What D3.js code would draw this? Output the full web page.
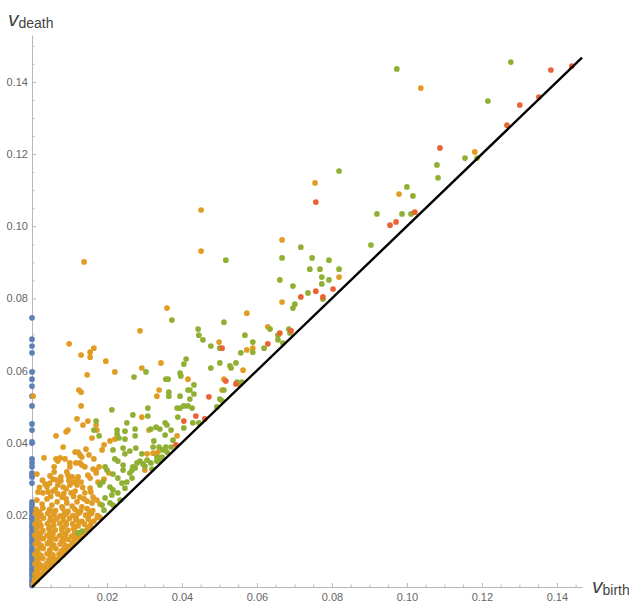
<!DOCTYPE html>
<meta charset="utf-8">
<style>
  body { margin: 0; background: #fff; }
  .axis path, .axis line { stroke: #b8b8b8; stroke-width: 1px; }
  .axis text { font-family: "Liberation Sans", Arial, sans-serif; font-size: 11px; fill: #666; }
  .lbl { font-family: "Liberation Sans", Arial, sans-serif; fill: #444; }
</style>
<svg width="629" height="603"></svg>
<script src="https://d3js.org/d3.v7.min.js"></script>
<script>

var svg = d3.select("svg");

var xMax = 0.1467, yMax = 0.153;
var majorTicks = [0.02, 0.04, 0.06, 0.08, 0.10, 0.12, 0.14];
var tickLabels = ["0.02", "0.04", "0.06", "0.08", "0.10", "0.12", "0.14"];

// H0: all born at 0
var blueDeaths = [0.0746, 0.0687, 0.0668, 0.0649, 0.0596, 0.0576, 0.0557, 0.0529, 0.0502, 0.0452,
  0.0435, 0.0402, 0.0399, 0.0355, 0.0344, 0.0333, 0.0316, 0.0310, 0.0305, 0.0288, 0.0236, 0.0229,
  0.0221, 0.0214, 0.0209, 0.0200, 0.0193, 0.0187, 0.0178, 0.0171, 0.0166, 0.0157, 0.0149, 0.0144,
  0.0136, 0.0127, 0.0121, 0.0113, 0.0104, 0.0099, 0.0091, 0.0082, 0.0076, 0.0067, 0.0061, 0.0052,
  0.0046, 0.0037, 0.0031, 0.0022, 0.0016, 0.0009, 0.0004];

var orangePts = [
  [0.0139,0.0901],[0.0451,0.1045],[0.0451,0.0931],[0.0360,0.0773],[0.0288,0.0710],[0.0099,0.0674],
  [0.0131,0.0643],[0.0155,0.0651],[0.0165,0.0662],[0.0155,0.0637],[0.0197,0.0626],[0.0221,0.0596],
  [0.0293,0.0607],[0.0147,0.0588],[0.0003,0.0529],[0.0125,0.0546],[0.0131,0.0540],[0.0131,0.0502],
  [0.0120,0.0466],[0.0149,0.0460],[0.0136,0.0449],[0.0171,0.0449],[0.0173,0.0435],[0.0339,0.0546],
  [0.0333,0.0529],[0.0293,0.0471],[0.0344,0.0621],[0.0416,0.0576],[0.0507,0.0546],[0.0512,0.0576],
  [0.0563,0.0601],[0.0573,0.0759],[0.0499,0.0679],[0.0589,0.0662],[0.0573,0.0657],[0.0629,0.0721],
  [0.0667,0.0790],[0.0667,0.0962],[0.0755,0.1120],[0.0819,0.0859],[0.1037,0.1383],[0.1181,0.1206],
  [0.0979,0.1089],[0.0312,0.0435],[0.0387,0.0419],[0.0307,0.0369],[0.0341,0.0358],[0.0301,0.0324],
  [0.0323,0.0371],[0.0336,0.0374],
  [0.0064,0.0419],[0.0091,0.0430],[0.0096,0.0435],[0.0160,0.0413],[0.0208,0.0405],[0.0221,0.0410],
  [0.0192,0.0394],[0.0187,0.0380],[0.0144,0.0382],[0.0115,0.0374],[0.0123,0.0374],[0.0128,0.0366],
  [0.0133,0.0360],[0.0083,0.0388],[0.0032,0.0358],[0.0064,0.0355],[0.0075,0.0358],[0.0069,0.0349],
  [0.0165,0.0355],[0.0117,0.0344],[0.0128,0.0344],[0.0152,0.0366],[0.0133,0.0338],[0.0141,0.0333],
  [0.0059,0.0333],[0.0059,0.0319],[0.0088,0.0355],[0.0101,0.0344],[0.0101,0.0333],[0.0171,0.0324],
  [0.0179,0.0333],[0.0013,0.0313],[0.0056,0.0299],[0.0064,0.0297],[0.0077,0.0305],[0.0077,0.0294],
  [0.0096,0.0310],[0.0123,0.0305],[0.0149,0.0310],[0.0155,0.0302],[0.0171,0.0316],[0.0176,0.0291],
  [0.0163,0.0327],[0.0192,0.0299],[0.0205,0.0316],[0.0048,0.0308],[0.0093,0.0319],[0.0107,0.0305],
  [0.0120,0.0297],[0.0131,0.0291],[0.0040,0.0277],[0.0069,0.0283],[0.0083,0.0277],[0.0091,0.0272],
  [0.0120,0.0283],[0.0101,0.0283],[0.0029,0.0261],[0.0043,0.0263],[0.0056,0.0266],[0.0069,0.0258],
  [0.0080,0.0249],[0.0091,0.0244],[0.0104,0.0261],[0.0115,0.0266],[0.0128,0.0249],[0.0141,0.0261],
  [0.0155,0.0274],[0.0157,0.0263],[0.0163,0.0249],[0.0147,0.0238],[0.0160,0.0233],[0.0173,0.0241],
  [0.0181,0.0230],[0.0016,0.0263],[0.0013,0.0241],[0.0027,0.0230],[0.0040,0.0244],[0.0053,0.0227],
  [0.0067,0.0236],[0.0080,0.0222],[0.0093,0.0233],[0.0107,0.0224],[0.0120,0.0236],[0.0133,0.0222],
  [0.0035,0.0285],[0.0050,0.0251],[0.0085,0.0259],[0.0111,0.0251],[0.0139,0.0244],[0.0028,0.0296],
  [0.0110,0.0290],[0.0135,0.0276],[0.0062,0.0271],[0.0020,0.0276],[0.0098,0.0296],[0.0047,0.0287],
  [0.0011,0.0215],[0.0029,0.0219],[0.0046,0.0214],[0.0063,0.0212],[0.0082,0.0218],[0.0096,0.0210],
  [0.0114,0.0216],[0.0130,0.0211],[0.0147,0.0217],[0.0162,0.0212],
  [0.0020,0.0208],[0.0054,0.0210],[0.0087,0.0207],[0.0121,0.0209],[0.0154,0.0206],
  [0.0009,0.0203],[0.0025,0.0199],[0.0042,0.0204],[0.0059,0.0200],[0.0075,0.0197],[0.0092,0.0203],
  [0.0109,0.0198],[0.0126,0.0205],[0.0143,0.0199],[0.0159,0.0204],[0.0175,0.0198],
  [0.0017,0.0195],[0.0050,0.0193],[0.0084,0.0196],[0.0118,0.0194],[0.0151,0.0196],[0.0181,0.0193],
  [0.0014,0.0187],[0.0031,0.0191],[0.0048,0.0185],[0.0066,0.0189],[0.0083,0.0184],[0.0100,0.0190],
  [0.0117,0.0186],[0.0133,0.0182],[0.0150,0.0188],[0.0165,0.0183],[0.0174,0.0192],
  [0.0020,0.0180],[0.0057,0.0181],[0.0091,0.0179],[0.0125,0.0181],[0.0158,0.0178],
  [0.0008,0.0174],[0.0024,0.0170],[0.0041,0.0175],[0.0058,0.0171],[0.0074,0.0176],[0.0091,0.0172],
  [0.0108,0.0175],[0.0123,0.0170],[0.0140,0.0174],[0.0155,0.0169],
  [0.0016,0.0166],[0.0050,0.0167],[0.0083,0.0165],[0.0116,0.0167],[0.0148,0.0164],
  [0.0012,0.0160],[0.0029,0.0156],[0.0045,0.0162],[0.0062,0.0158],[0.0079,0.0161],[0.0096,0.0157],
  [0.0111,0.0162],[0.0146,0.0158],
  [0.0015,0.0151],[0.0048,0.0153],[0.0081,0.0151],[0.0114,0.0152],[0.0136,0.0150],
  [0.0007,0.0144],[0.0023,0.0148],[0.0040,0.0143],[0.0056,0.0147],[0.0073,0.0142],[0.0090,0.0146],
  [0.0106,0.0141],[0.0122,0.0145],
  [0.0019,0.0137],[0.0052,0.0138],[0.0085,0.0136],[0.0115,0.0138],[0.0129,0.0140],
  [0.0013,0.0130],[0.0030,0.0134],[0.0047,0.0129],[0.0063,0.0133],[0.0080,0.0128],[0.0097,0.0132],
  [0.0113,0.0129],[0.0123,0.0134],
  [0.0017,0.0124],[0.0050,0.0123],[0.0083,0.0125],[0.0110,0.0124],
  [0.0009,0.0119],[0.0025,0.0115],[0.0041,0.0120],[0.0058,0.0116],[0.0075,0.0119],[0.0091,0.0114],
  [0.0106,0.0118],
  [0.0020,0.0110],[0.0054,0.0111],[0.0087,0.0109],[0.0100,0.0112],
  [0.0014,0.0103],[0.0030,0.0107],[0.0047,0.0102],[0.0064,0.0106],[0.0080,0.0101],[0.0093,0.0105],
  [0.0016,0.0097],[0.0048,0.0096],[0.0079,0.0098],[0.0088,0.0096],
  [0.0008,0.0091],[0.0024,0.0088],[0.0040,0.0092],[0.0056,0.0089],[0.0072,0.0091],[0.0082,0.0088],
  [0.0018,0.0083],[0.0050,0.0082],[0.0074,0.0084],
  [0.0013,0.0076],[0.0029,0.0079],[0.0045,0.0075],[0.0060,0.0078],[0.0069,0.0074],
  [0.0016,0.0070],[0.0047,0.0069],[0.0062,0.0071],
  [0.0008,0.0064],[0.0024,0.0061],[0.0039,0.0065],[0.0053,0.0062],
  [0.0016,0.0056],[0.0034,0.0055],[0.0048,0.0057],
  [0.0012,0.0048],[0.0027,0.0051],[0.0040,0.0047],
  [0.0015,0.0042],[0.0034,0.0043],
  [0.0008,0.0036],[0.0022,0.0034],[0.0029,0.0037],
  [0.0012,0.0028],[0.0021,0.0029],
  [0.0007,0.0022],[0.0015,0.0020],[0.0010,0.0015],[0.0004,0.0009]
];

var greenPts = [
  [0.1277,0.1455],[0.1216,0.1347],[0.1155,0.1189],[0.1187,0.1189],[0.1080,0.1170],[0.1083,0.1134],
  [0.1000,0.1109],[0.1016,0.1084],[0.0987,0.1034],[0.1011,0.1034],[0.0973,0.1436],[0.0819,0.1153],
  [0.0920,0.1034],[0.0904,0.0948],[0.0717,0.0942],[0.0747,0.0912],[0.0792,0.0906],[0.0741,0.0881],
  [0.0768,0.0881],[0.0819,0.0881],[0.0773,0.0859],[0.0792,0.0851],[0.0773,0.0840],[0.0736,0.0815],
  [0.0776,0.0798],[0.0517,0.0906],[0.0667,0.0912],[0.0661,0.0851],[0.0696,0.0834],[0.0701,0.0784],
  [0.0696,0.0773],[0.0512,0.0734],[0.0635,0.0715],[0.0443,0.0715],[0.0445,0.0698],[0.0456,0.0685],
  [0.0568,0.0698],[0.0685,0.0715],[0.0688,0.0704],[0.0656,0.0698],[0.0656,0.0685],[0.0669,0.0676],
  [0.0589,0.0679],[0.0477,0.0668],[0.0501,0.0662],[0.0589,0.0651],[0.0619,0.0662],[0.0557,0.0649],
  [0.0544,0.0621],[0.0501,0.0621],[0.0528,0.0613],[0.0531,0.0607],[0.0477,0.0607],[0.0373,0.0740],
  [0.0411,0.0632],[0.0405,0.0618],[0.0357,0.0576],[0.0363,0.0576],[0.0395,0.0593],[0.0397,0.0585],
  [0.0365,0.0540],[0.0365,0.0529],[0.0395,0.0529],[0.0416,0.0546],[0.0421,0.0546],[0.0432,0.0560],
  [0.0432,0.0535],[0.0421,0.0521],[0.0387,0.0496],[0.0395,0.0496],[0.0405,0.0502],[0.0416,0.0502],
  [0.0427,0.0496],[0.0501,0.0521],[0.0507,0.0516],[0.0493,0.0499],[0.0512,0.0546],[0.0547,0.0568],
  [0.0560,0.0568],[0.0555,0.0563],[0.0389,0.0471],[0.0429,0.0455],[0.0445,0.0455],[0.0405,0.0441],
  [0.0355,0.0455],[0.0360,0.0449],[0.0317,0.0438],[0.0331,0.0443],[0.0341,0.0438],[0.0371,0.0435],
  [0.0355,0.0421],[0.0309,0.0474],[0.0309,0.0496],[0.0272,0.0582],[0.0304,0.0596],[0.0269,0.0477],
  [0.0376,0.0407],[0.0275,0.0419],[0.0325,0.0405],[0.0323,0.0388],[0.0339,0.0388],[0.0357,0.0388],
  [0.0371,0.0388],[0.0277,0.0385],[0.0349,0.0380],[0.0360,0.0374],[0.0293,0.0369],[0.0333,0.0360],
  [0.0347,0.0360],[0.0307,0.0352],[0.0288,0.0349],[0.0280,0.0344],[0.0269,0.0333],[0.0301,0.0335],
  [0.0320,0.0327],[0.0267,0.0324],[0.0171,0.0460],[0.0165,0.0435],[0.0179,0.0419],[0.0213,0.0491],
  [0.0227,0.0435],[0.0227,0.0424],[0.0232,0.0413],[0.0253,0.0455],[0.0275,0.0438],[0.0248,0.0432],
  [0.0248,0.0410],[0.0216,0.0380],[0.0243,0.0385],[0.0248,0.0369],[0.0261,0.0377],[0.0221,0.0355],
  [0.0229,0.0349],[0.0195,0.0333],[0.0200,0.0324],[0.0216,0.0313],[0.0229,0.0302],[0.0243,0.0338],
  [0.0243,0.0324],[0.0275,0.0330],[0.0296,0.0341],[0.0261,0.0316],[0.0267,0.0302],[0.0253,0.0291],
  [0.0317,0.0344],[0.0333,0.0349],[0.0344,0.0352],[0.0181,0.0283],[0.0189,0.0291],[0.0208,0.0277],
  [0.0216,0.0269],[0.0213,0.0255],[0.0229,0.0261],[0.0240,0.0288],[0.0248,0.0274],[0.0195,0.0247],
  [0.0208,0.0233],[0.0216,0.0227],[0.0235,0.0241],[0.0187,0.0227],[0.0192,0.0213],[0.0123,0.0150],
  [0.0133,0.0155]
];

var redPts = [
  [0.1384,0.1433],[0.1440,0.1444],[0.1301,0.1336],[0.1352,0.1358],[0.1267,0.1280],[0.1088,0.1217],
  [0.1021,0.1039],[0.0955,0.1003],[0.0971,0.1012],[0.0757,0.1067],[0.0803,0.0826],[0.0757,0.0820],
  [0.0717,0.0804],[0.0776,0.0804],[0.0691,0.0710],[0.0661,0.0704],[0.0629,0.0674],[0.0507,0.0662],
  [0.0517,0.0571],[0.0544,0.0563],[0.0472,0.0527],[0.0437,0.0474],[0.0405,0.0460],[0.0461,0.0466],
  [0.0384,0.0394]
];

var x = d3.scaleLinear().domain([0, xMax]).range([32, 582]);
var y = d3.scaleLinear().domain([0, yMax]).range([587, 35]);

var minorX = d3.range(1, 30).map(function(i) { return i * 0.005; })
  .filter(function(v) { return v <= xMax && Math.round(v * 1000) % 20 != 0; });
var minorY = d3.range(1, 31).map(function(i) { return i * 0.005; })
  .filter(function(v) { return v <= yMax && Math.round(v * 1000) % 20 != 0; });

// axes (ticks point inward, Mathematica style)
svg.append("g").attr("class", "axis").attr("transform", "translate(0,587)")
  .call(d3.axisBottom(x).tickValues(majorTicks).tickFormat(function(d, i) { return tickLabels[i]; })
    .tickSize(-4).tickSizeOuter(0).tickPadding(6));
svg.append("g").attr("class", "axis").attr("transform", "translate(0,587)")
  .call(d3.axisBottom(x).tickValues(minorX).tickFormat("").tickSize(-2.5))
  .select(".domain").remove();

svg.append("g").attr("class", "axis").attr("transform", "translate(32,0)")
  .call(d3.axisLeft(y).tickValues(majorTicks).tickFormat(function(d, i) { return tickLabels[i]; })
    .tickSize(-4).tickSizeOuter(0).tickPadding(4));
svg.append("g").attr("class", "axis").attr("transform", "translate(32,0)")
  .call(d3.axisLeft(y).tickValues(minorY).tickFormat("").tickSize(-2.5))
  .select(".domain").remove();

var r = 2.85;
function dots(data, color) {
  svg.append("g").selectAll("circle")
    .data(data)
    .enter().append("circle")
    .attr("cx", function(d) { return x(d[0]); })
    .attr("cy", function(d) { return y(d[1]); })
    .attr("r", r)
    .attr("fill", color);
}

dots(blueDeaths.map(function(d) { return [0, d]; }), "#5e81b5");
dots(orangePts, "#e19c24");
dots(greenPts, "#8fb032");
dots(redPts, "#eb6235");

// diagonal
svg.append("line")
  .attr("x1", x(0)).attr("y1", y(0))
  .attr("x2", x(xMax)).attr("y2", y(xMax))
  .attr("stroke", "#000").attr("stroke-width", 2.4);

// axis labels
var ly = svg.append("text").attr("class", "lbl").attr("x", 8).attr("y", 26);
ly.append("tspan").attr("font-style", "italic").attr("font-size", 21).text("v");
ly.append("tspan").attr("font-size", 14).attr("dy", 2).text("death");

var lx = svg.append("text").attr("class", "lbl").attr("x", 592).attr("y", 593);
lx.append("tspan").attr("font-style", "italic").attr("font-size", 21).text("v");
lx.append("tspan").attr("font-size", 14).attr("dy", 2).text("birth");

</script>
